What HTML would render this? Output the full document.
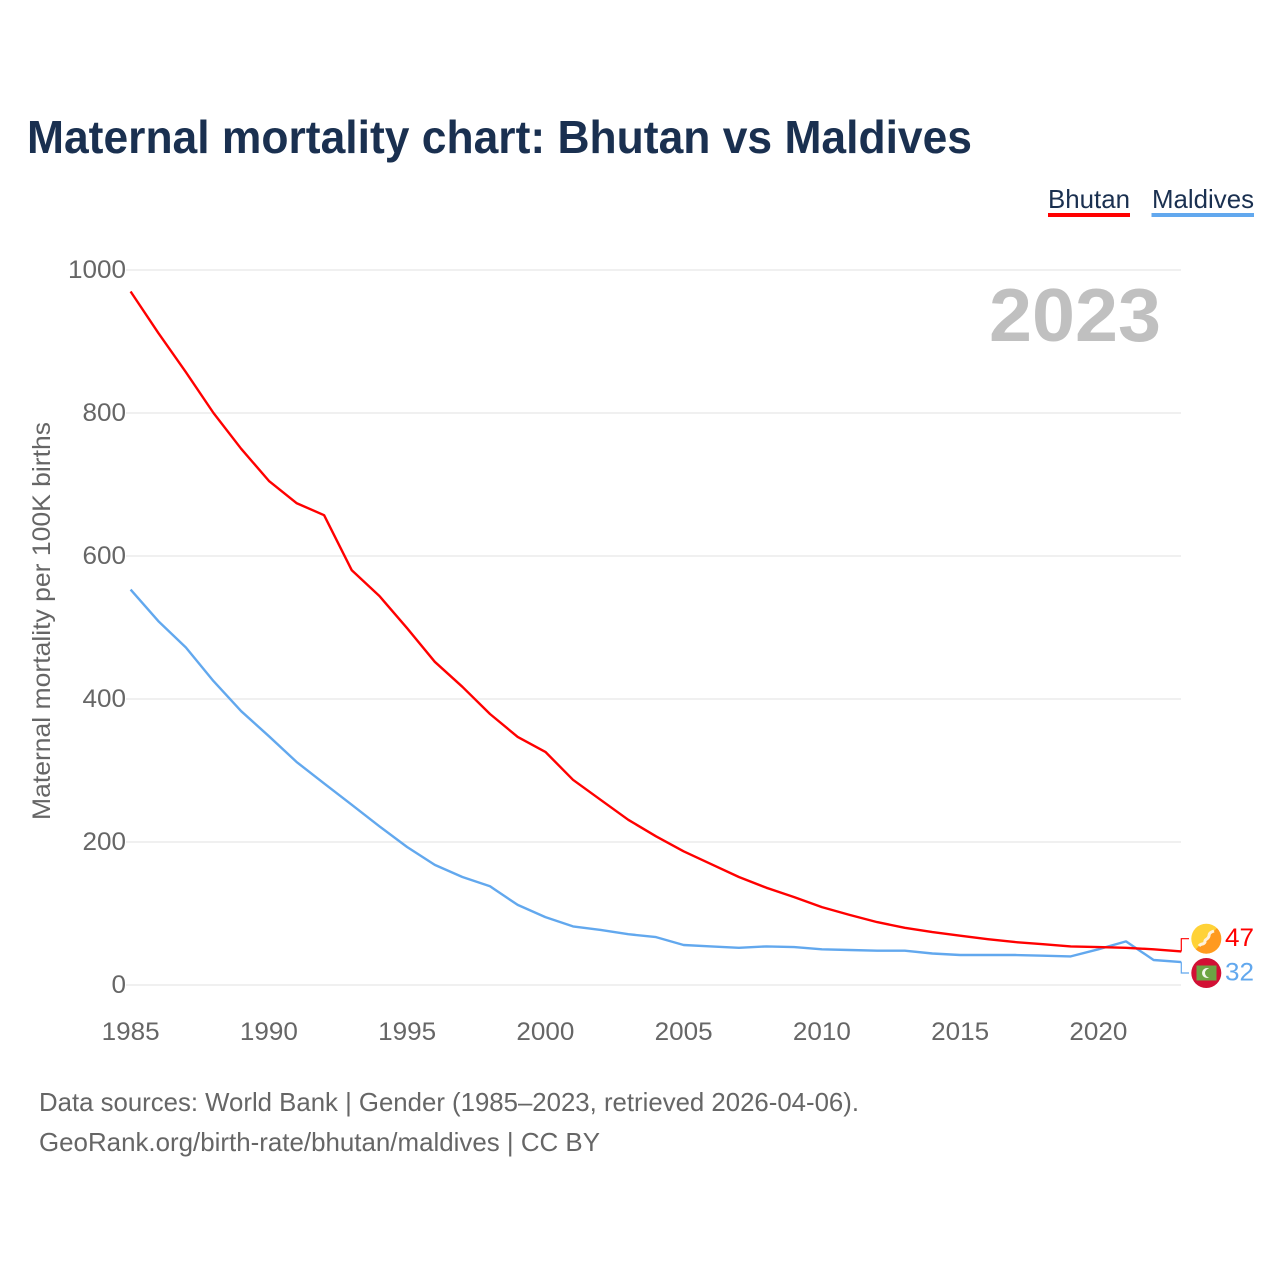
<!DOCTYPE html>
<html lang="en">
<head>
<meta charset="utf-8">
<title>Maternal mortality chart: Bhutan vs Maldives</title>
<style>
html,body{margin:0;padding:0;background:#fff;}
svg{display:block;font-family:"Liberation Sans",sans-serif;}
</style>
</head>
<body>
<svg id="chart" xmlns="http://www.w3.org/2000/svg" width="1280" height="1280" viewBox="0 0 1280 1280">
  <rect x="0" y="0" width="1280" height="1280" fill="#ffffff"/>
  <text x="27" y="153" font-size="46" font-weight="700" fill="#1a3050" textLength="945" lengthAdjust="spacingAndGlyphs">Maternal mortality chart: Bhutan vs Maldives</text>
  <g id="grid"></g>
  <text x="989" y="341" font-size="75" font-weight="700" fill="#c0c0c0" textLength="172" lengthAdjust="spacingAndGlyphs">2023</text>
  <g id="yticks"></g>
  <g id="xticks"></g>
  <text transform="translate(50,820) rotate(-90)" font-size="25" fill="#666666" textLength="398" lengthAdjust="spacingAndGlyphs">Maternal mortality per 100K births</text>
  <g id="series"></g>

  <g>
    <text x="1048" y="208" font-size="26" fill="#1a3050" textLength="82" lengthAdjust="spacingAndGlyphs">Bhutan</text>
    <rect x="1048" y="213" width="82" height="4" fill="#ff0000"/>
  </g>
  <g>
    <text x="1152" y="208" font-size="26" fill="#1a3050" textLength="102" lengthAdjust="spacingAndGlyphs">Maldives</text>
    <rect x="1151.500" y="213" width="102.500" height="4" fill="#62a8ee"/>
  </g>

  <g>
    <clipPath id="bt-clip"><circle cx="1206.300" cy="938.700" r="15"/></clipPath>
    <circle cx="1206.300" cy="938.700" r="15" fill="#ffd237"/>
    <path clip-path="url(#bt-clip)" d="M1221.300 923.700V953.700H1191.300Z" fill="#ff9a1f"/>
    <path d="M1199 946C1201 943 1204 945 1205 942C1204 939 1208 940 1209 936C1209 933 1211 932 1214 931" fill="none" stroke="#fff2dc" stroke-width="3"/>
  </g>
  <g>
    <circle cx="1206.300" cy="973" r="15" fill="#d21034"/>
    <rect x="1196.500" y="965.500" width="20" height="15" fill="#6ca544"/>
    <circle cx="1207" cy="973" r="5" fill="#f3f7ee"/>
    <circle cx="1209.500" cy="973" r="4.500" fill="#6ca544"/>
  </g>
</svg>
<script>
const categories = [1985,1986,1987,1988,1989,1990,1991,1992,1993,1994,1995,1996,1997,1998,1999,2000,2001,2002,2003,2004,2005,2006,2007,2008,2009,2010,2011,2012,2013,2014,2015,2016,2017,2018,2019,2020,2021,2022,2023];
const bhutanValues = [970,912,857,800,750,705,674,657,580,544,499,452,417,379,347,326,287,259,231,208,187,169,151,136,123,109,98,88,80,74,69,64,60,57,54,53,52,50,47];
const maldivesValues = [553,509,472,425,383,348,312,282,252,222,193,168,151,138,112,95,82,77,71,67,56,54,52,54,53,50,49,48,48,44,42,42,42,41,40,50,61,35,32];
const yTickLabels = [0,200,400,600,800,1000];
const xTickLabels = [1985,1990,1995,2000,2005,2010,2015,2020];

const NS = 'http://www.w3.org/2000/svg';
function xScale(year){ return 130.6 + (year - 1985) * 27.65; }
function yScale(value){ return 985 - value * 0.715; }
function make(tag, attrs, parent){
  const el = document.createElementNS(NS, tag);
  Object.keys(attrs).forEach(function(k){ el.setAttribute(k, attrs[k]); });
  parent.appendChild(el);
  return el;
}

const grid = document.getElementById('grid');
const yticks = document.getElementById('yticks');
yTickLabels.forEach(function(t){
  const line = make('line', {x1:126, x2:1181, y1:yScale(t), y2:yScale(t), stroke:'#ebebeb', 'stroke-width':1.5}, grid);
  
  
  const label = make('text', {x:126, y:yScale(t)+8, 'font-size':25, fill:'#666666', 'text-anchor':'end', textLength:String(t).length*14.5, lengthAdjust:'spacingAndGlyphs'}, yticks);
  label.textContent = t;
  
  
});

const xticks = document.getElementById('xticks');
xTickLabels.forEach(function(t){
  const label = make('text', {x:xScale(t), y:1040, 'font-size':25, fill:'#666666', 'text-anchor':'middle', textLength:58, lengthAdjust:'spacingAndGlyphs'}, xticks);
  label.textContent = t;
  
  
});

const seriesGroup = document.getElementById('series');
function linePath(values){
  return values.map(function(v,i){ return (i ? 'L' : 'M') + xScale(categories[i]).toFixed(1) + ' ' + yScale(v).toFixed(1); }).join('');
}
function drawSeries(values, color, key, labelY){
  const path = make('path', {d:linePath(values), fill:'none', stroke:color, 'stroke-width':2.4, 'stroke-linejoin':'round'}, seriesGroup);
  
  
  const last = values[values.length-1];
  const endX = xScale(categories[categories.length-1]);
  const connector = make('path', {d:'M' + endX + ' ' + yScale(last) + 'V' + labelY + 'H1189', fill:'none', stroke:color, 'stroke-width':1.2}, seriesGroup);
  
  
  const label = make('text', {x:1225, y:labelY+7.5, 'font-size':25, fill:color, textLength:String(last).length*14.5, lengthAdjust:'spacingAndGlyphs'}, seriesGroup);
  label.textContent = last;
  
  
}
drawSeries(maldivesValues, '#62a8ee', 'maldives', 973);
drawSeries(bhutanValues, '#ff0000', 'bhutan', 938.7);
</script>
<svg style="position:absolute;left:0;top:1080px;" xmlns="http://www.w3.org/2000/svg" width="1280" height="90" viewBox="0 1080 1280 90">
  <text x="39" y="1111" font-size="26" fill="#666666" textLength="820" lengthAdjust="spacingAndGlyphs">Data sources: World Bank | Gender (1985–2023, retrieved 2026-04-06).</text>
  <text x="39" y="1151" font-size="26" fill="#666666" textLength="561" lengthAdjust="spacingAndGlyphs">GeoRank.org/birth-rate/bhutan/maldives | CC BY</text>
</svg>
</body>
</html>
